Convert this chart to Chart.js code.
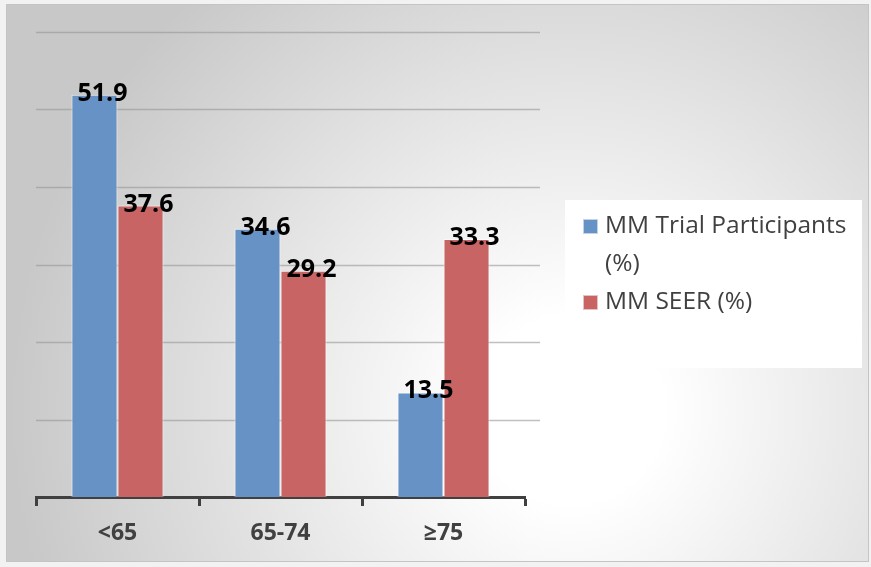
<!DOCTYPE html>
<html>
<head>
<meta charset="utf-8">
<script src="https://cdn.jsdelivr.net/npm/chart.js@4"></script>
<style>
  html, body { margin: 0; padding: 0; background: #f2f2f2; }
  #wrap { width: 871px; height: 567px; position: relative; }
</style>
</head>
<body>
<div id="wrap"><canvas id="chart1"></canvas></div>
<script>
// Aldersgrupper og andele (%)
const ageGroups = ['<65', '65-74', '≥75'];
const trialValues = [51.9, 34.6, 13.5];
const seerValues = [37.6, 29.2, 33.3];
const seriesNames = [['MM Trial Participants', '(%)'], ['MM SEER (%)']];
const seriesColors = ['#6792c6', '#c86463'];
const yTicks = [0, 10, 20, 30, 40, 50, 60];

const FONT = '"Open Sans", "Noto Sans", sans-serif';

// baggrund med ramme og gradient
const frameBackground = {
    id: 'frameBackground',
    beforeDraw(chart) {
        const { ctx, width, height } = chart;
        ctx.save();
        ctx.fillStyle = '#f2f2f2';
        ctx.fillRect(0, 0, width, height);
        const g = ctx.createRadialGradient(570, 410, 30, 570, 410, 560);
        g.addColorStop(0, '#ffffff');
        g.addColorStop(0.12, '#ffffff');
        g.addColorStop(1, '#c8c8c8');
        ctx.fillStyle = g;
        ctx.fillRect(6, 4, width - 8, height - 9);
        ctx.strokeStyle = '#c4c4c4';
        ctx.lineWidth = 1;
        ctx.strokeRect(6.5, 4.5, width - 9, height - 10);
        ctx.restore();
    }
};

// vandrette gitterlinjer, lidt længere end akse
const gridLines = {
    id: 'gridLines',
    beforeDatasetsDraw(chart) {
        const { ctx, chartArea, scales: { y } } = chart;
        ctx.save();
        ctx.strokeStyle = 'rgba(150,150,150,0.6)';
        ctx.lineWidth = 1.5;
        yTicks.forEach(v => {
            if (v === 0) return;
            const py = Math.round(y.getPixelForValue(v)) + 0.5;
            ctx.beginPath();
            ctx.moveTo(chartArea.left, py);
            ctx.lineTo(chartArea.right + 15, py);
            ctx.stroke();
        });
        ctx.restore();
    }
};

// værdier over søjlerne
const valueLabels = {
    id: 'valueLabels',
    afterDatasetsDraw(chart) {
        const { ctx } = chart;
        ctx.save();
        ctx.font = 'bold 25px ' + FONT;
        ctx.fillStyle = '#000';
        ctx.textAlign = 'center';
        ctx.textBaseline = 'alphabetic';
        chart.data.datasets.forEach((ds, di) => {
            chart.getDatasetMeta(di).data.forEach((bar, i) => {
                ctx.fillText(ds.data[i].toFixed(1), bar.x + 8, bar.y + 6);
            });
        });
        ctx.restore();
    }
};

// forklaring i hvid boks til højre
const sideLegend = {
    id: 'sideLegend',
    afterDraw(chart) {
        const { ctx } = chart;
        const box = { x: 565, y: 200, w: 297, h: 168 };
        ctx.save();
        ctx.fillStyle = '#ffffff';
        ctx.fillRect(box.x, box.y, box.w, box.h);
        ctx.font = '24.5px ' + FONT;
        ctx.textAlign = 'left';
        ctx.textBaseline = 'middle';
        let cy = 226;
        seriesNames.forEach((lines, i) => {
            ctx.fillStyle = seriesColors[i];
            ctx.fillRect(583, cy - 7, 15, 15);
            ctx.strokeStyle = 'rgba(255,255,255,0.6)';
            ctx.strokeRect(583.5, cy - 6.5, 14, 14);
            ctx.fillStyle = '#404040';
            lines.forEach(line => {
                ctx.fillText(line, 605, cy);
                cy += 38;
            });
        });
        ctx.restore();
    }
};

const ctx = document.querySelector('#chart1');
if (ctx) {
new Chart(ctx, {
    type: 'bar',
    data: {
        labels: ageGroups,
        datasets: [
            {
                label: seriesNames[0].join(' '),
                data: trialValues,
                backgroundColor: seriesColors[0],
                borderColor: 'rgba(255,255,255,0.7)',
                borderWidth: 1,
                categoryPercentage: 0.565,
                barPercentage: 1.0
            },
            {
                label: seriesNames[1].join(' '),
                data: seerValues,
                backgroundColor: seriesColors[1],
                borderColor: 'rgba(255,255,255,0.7)',
                borderWidth: 1,
                categoryPercentage: 0.565,
                barPercentage: 1.0
            }
        ]
    },
    options: {
        responsive: true,
        maintainAspectRatio: false,
        animation: false,
        layout: {
            padding: { left: 36, right: 346, top: 32, bottom: 0 }
        },
        scales: {
            y: {
                display: false,
                min: 0,
                max: 60,
                ticks: { stepSize: 10 }
            },
            x: {
                offset: true,
                border: { display: true, color: '#404040', width: 3 },
                grid: {
                    display: true,
                    drawOnChartArea: false,
                    drawTicks: true,
                    tickLength: 9,
                    tickWidth: 3,
                    tickColor: '#404040',
                    offset: true
                },
                ticks: {
                    color: '#404040',
                    font: { family: FONT, size: 23, weight: 'bold' },
                    padding: 14,
                    maxRotation: 0
                },
                afterFit(scale) {
                    scale.height = 70; // fast højde så plotområdet slutter ved y=497
                }
            }
        },
        plugins: {
            legend: { display: false },
            tooltip: { enabled: false }
        }
    },
    plugins: [frameBackground, gridLines, valueLabels, sideLegend]
});
}
</script>
</body>
</html>
